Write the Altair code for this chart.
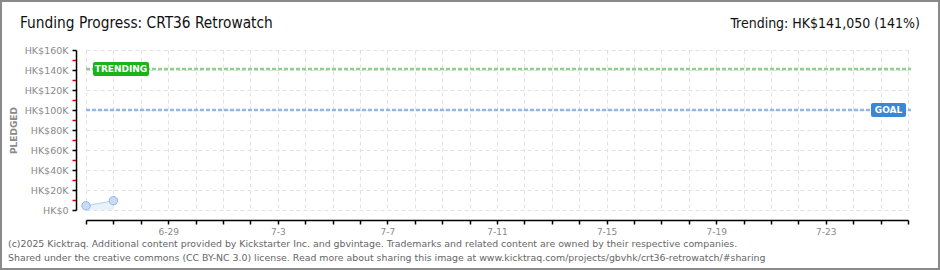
import json
import altair as alt
import pandas as pd

# ---- data ----
dates = ["2025-06-26", "2025-06-27"]
pledged = [4200, 9300]
trend_value = 141050
goal_value = 100000
x_domain = ["2025-06-26", "2025-07-26"]
x_tick_labels = ["6-29", "7-3", "7-7", "7-11", "7-15", "7-19", "7-23"]
y_tick_values = list(range(0, 160001, 10000))
y_tick_labels = ["HK$0", "", "HK$20K", "", "HK$40K", "", "HK$60K", "", "HK$80K", "",
                 "HK$100K", "", "HK$120K", "", "HK$140K", "", "HK$160K"]
title_left = "Funding Progress: CRT36 Retrowatch"
title_right = "Trending:  HK$141,050 (141%)"
footer1 = "(c)2025 Kicktraq. Additional content provided by Kickstarter Inc. and gbvintage. Trademarks and related content are owned by their respective companies."
footer2 = "Shared under the creative commons (CC BY-NC 3.0) license. Read more about sharing this image at www.kicktraq.com/projects/gbvhk/crt36-retrowatch/#sharing"

def ms(d):
    return int(pd.Timestamp(d).value // 10**6)

day_values = [ms(d) for d in pd.date_range(x_domain[0], x_domain[1], freq="D")]

df = pd.DataFrame({"date": dates, "pledged": pledged})
ref = pd.DataFrame({"value": [trend_value, goal_value], "name": ["TRENDING", "GOAL"]})

FONT = "DejaVu Sans"
NARROW = "Liberation Sans Narrow, DejaVu Sans Condensed, Roboto"
GRAY = "#8a8a8a"

x_label_expr = (f"indexof({json.dumps(x_tick_labels)}, utcFormat(datum.value, '%-m-%-d')) >= 0 "
                f"? utcFormat(datum.value, '%-m-%-d') : ''")
y_label_expr = f"{json.dumps(y_tick_labels)}[indexof({json.dumps(y_tick_values)}, datum.value)]"

xscale = alt.Scale(type="utc", domain=[ms(x_domain[0]), ms(x_domain[1])])
yscale = alt.Scale(domain=[0, 160000])

x_axis = alt.Axis(values=day_values, labelExpr=x_label_expr, title=None, offset=10,
                  grid=True, gridDash=[4, 3], gridColor="#e2e2e2",
                  domainColor="#000", tickColor="#000", tickSize=4, labelColor=GRAY,
                  labelFont=FONT, labelFontSize=9, labelPadding=3, labelAngle=0,
                  labelOverlap=False)
y_axis = alt.Axis(values=y_tick_values, labelExpr=y_label_expr, title="PLEDGED", offset=10,
                  grid=True, gridDash=[4, 3], gridColor="#e2e2e2",
                  gridOpacity={"condition": {"test": "datum.value % 20000 == 0", "value": 1}, "value": 0},
                  tickColor={"condition": {"test": "datum.value % 20000 == 0", "value": "#000"}, "value": "#e00000"},
                  domainColor="#000", tickSize=4, labelColor=GRAY, labelFont=FONT,
                  labelFontSize=9.5, labelPadding=4, labelOverlap=False,
                  titleColor=GRAY, titleFont=FONT, titleFontSize=9, titleFontWeight="bold",
                  titlePadding=6)

X = alt.X("date:T", scale=xscale, axis=x_axis)
Y = alt.Y("pledged:Q", scale=yscale, axis=y_axis)
YR = alt.Y("value:Q", scale=yscale, axis=y_axis)

base = alt.Chart(df)
area = base.mark_area(color="#e9f1fb").encode(x=X, y=Y)
line = base.mark_line(color="#b7d0f0", strokeWidth=1).encode(x=X, y=Y)
pts = base.mark_point(filled=True, fill="#c8dcf6", stroke="#8fb4e6", strokeWidth=1,
                      size=70, opacity=1).encode(x=X, y=Y)

refc = alt.Chart(ref)
trend_rule = refc.transform_filter("datum.name == 'TRENDING'").mark_rule(
    color="#8fd08f", strokeWidth=2.5, strokeDash=[4, 2]).encode(
    y=YR, x=alt.value(0), x2=alt.value(825))
goal_rule = refc.transform_filter("datum.name == 'GOAL'").mark_rule(
    color="#93b6e2", strokeWidth=2.5, strokeDash=[4, 2]).encode(
    y=YR, x=alt.value(0), x2=alt.value(825))

trend_box = refc.transform_filter("datum.name == 'TRENDING'").mark_rect(
    color="#19b419", cornerRadius=2, yOffset=-7, y2Offset=7).encode(
    y=YR, y2="value:Q", x=alt.value(7), x2=alt.value(63))
trend_txt = refc.transform_filter("datum.name == 'TRENDING'").mark_text(
    color="white", font=FONT, fontSize=9, fontWeight="bold", align="center",
    baseline="middle").encode(y=YR, x=alt.value(35), text="name:N")
goal_box = refc.transform_filter("datum.name == 'GOAL'").mark_rect(
    color="#3a87d6", cornerRadius=2, yOffset=-7, y2Offset=7).encode(
    y=YR, y2="value:Q", x=alt.value(785), x2=alt.value(820))
goal_txt = refc.transform_filter("datum.name == 'GOAL'").mark_text(
    color="white", font=FONT, fontSize=9, fontWeight="bold", align="center",
    baseline="middle").encode(y=YR, x=alt.value(802.5), text="name:N")

# frame and header/footer texts (annotations, relative to the plot origin at (86, 50))
frame = alt.Chart(pd.DataFrame({"a": [0]})).mark_rect(
    fill=None, stroke="#8a8a8a", strokeWidth=2).encode(
    x=alt.value(-85), y=alt.value(-49), x2=alt.value(853), y2=alt.value(219))

def label(text, x, y, size, color, align="left", font=FONT):
    return alt.Chart(pd.DataFrame({"t": [text]})).mark_text(
        align=align, baseline="alphabetic", fontSize=size, color=color, font=font).encode(
        x=alt.value(x), y=alt.value(y), text="t:N")

t1 = label(title_left, -66, -22, 15.3, "#111", font=NARROW)
t2 = label(title_right, 834, -22, 14, "#111", align="right", font=NARROW)
f1 = label(footer1, -78, 197, 9.4, "#666")
f2 = label(footer2, -78, 211, 9.4, "#666")

chart = alt.layer(
    frame, area, trend_rule, goal_rule, line, pts, trend_box, trend_txt, goal_box, goal_txt,
    t1, t2, f1, f2
).properties(
    width=822, height=160,
    autosize=alt.AutoSizeParams(type="none"),
    padding={"left": 86, "top": 50, "right": 32, "bottom": 60},
    background="white",
).configure_view(stroke=None).configure_axis(domainWidth=1.5, tickWidth=1.5)

chart.save("out.html", embed_options={"renderer": "svg", "actions": False})
